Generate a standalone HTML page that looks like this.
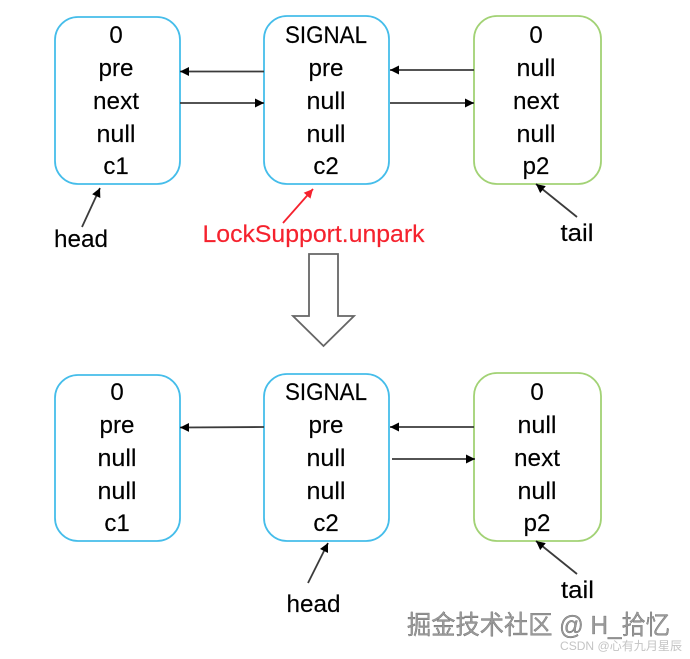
<!DOCTYPE html>
<html>
<head>
<meta charset="utf-8">
<style>
html,body{margin:0;padding:0;background:#fff;width:690px;height:659px;overflow:hidden}
svg{display:block}
.b{fill:#fff;stroke-width:1.8}
.t text{font-family:"Liberation Sans",sans-serif;font-size:24px;fill:#000;stroke:#000;stroke-width:0.15;text-anchor:middle}
.l{stroke:#3a3a3a;stroke-width:1.8;fill:none}
</style>
</head>
<body>
<svg width="690" height="659" viewBox="0 0 690 659" xmlns="http://www.w3.org/2000/svg">
<defs>
<filter id="s" x="-5%" y="-5%" width="110%" height="110%"><feGaussianBlur stdDeviation="0.3"/></filter>
<marker id="a" markerUnits="userSpaceOnUse" markerWidth="10" markerHeight="10" refX="9" refY="5" orient="auto"><path d="M0,0.5 L9,5 L0,9.5 Z" fill="#000"/></marker>
<marker id="r" markerUnits="userSpaceOnUse" markerWidth="10" markerHeight="10" refX="9" refY="5" orient="auto"><path d="M0,0.5 L9,5 L0,9.5 Z" fill="#f5222d"/></marker>
</defs>
<g filter="url(#s)">
<rect class="b" x="55" y="17" width="125" height="167" rx="23" stroke="#45bdea"/>
<rect class="b" x="264" y="16" width="125" height="168" rx="23" stroke="#45bdea"/>
<rect class="b" x="474" y="16" width="127" height="168" rx="23" stroke="#a2d275"/>
<rect class="b" x="55" y="375" width="125" height="166" rx="23" stroke="#45bdea"/>
<rect class="b" x="264" y="374" width="125" height="167" rx="23" stroke="#45bdea"/>
<rect class="b" x="474" y="373" width="127" height="168" rx="23" stroke="#a2d275"/>

<g class="l">
<line x1="264" y1="71.500" x2="180" y2="71.500" marker-end="url(#a)"/>
<line x1="180" y1="103" x2="264" y2="103" marker-end="url(#a)"/>
<line x1="474" y1="70" x2="390" y2="70" marker-end="url(#a)"/>
<line x1="390" y1="103" x2="474" y2="103" marker-end="url(#a)"/>
<line x1="82" y1="227" x2="100" y2="188" marker-end="url(#a)"/>
<line x1="577" y1="217" x2="536" y2="184" marker-end="url(#a)"/>
<line x1="264" y1="427" x2="180" y2="427.500" marker-end="url(#a)"/>
<line x1="474" y1="427" x2="390" y2="427" marker-end="url(#a)"/>
<line x1="392" y1="459" x2="475" y2="459" marker-end="url(#a)"/>
<line x1="308" y1="583" x2="328" y2="543" marker-end="url(#a)"/>
<line x1="577" y1="574" x2="536" y2="541" marker-end="url(#a)"/>
</g>
<line x1="283" y1="223" x2="313" y2="189" stroke="#f5222d" stroke-width="1.8" marker-end="url(#r)"/>

<path d="M309,254 H338 V316 H354 L323.500,346 L293,316 H309 Z" fill="#fff" stroke="#666" stroke-width="1.8"/>

<g class="t">
<text x="116" y="43">0</text>
<text x="116" y="76" textLength="35" lengthAdjust="spacingAndGlyphs">pre</text>
<text x="116" y="109" textLength="46" lengthAdjust="spacingAndGlyphs">next</text>
<text x="116" y="142" textLength="39" lengthAdjust="spacingAndGlyphs">null</text>
<text x="116" y="174">c1</text>

<text x="326" y="43" textLength="82" lengthAdjust="spacingAndGlyphs">SIGNAL</text>
<text x="326" y="76" textLength="35" lengthAdjust="spacingAndGlyphs">pre</text>
<text x="326" y="109" textLength="39" lengthAdjust="spacingAndGlyphs">null</text>
<text x="326" y="142" textLength="39" lengthAdjust="spacingAndGlyphs">null</text>
<text x="326" y="174">c2</text>

<text x="536" y="43">0</text>
<text x="536" y="76" textLength="39" lengthAdjust="spacingAndGlyphs">null</text>
<text x="536" y="109" textLength="46" lengthAdjust="spacingAndGlyphs">next</text>
<text x="536" y="142" textLength="39" lengthAdjust="spacingAndGlyphs">null</text>
<text x="536" y="174">p2</text>

<text x="117" y="400">0</text>
<text x="117" y="433" textLength="35" lengthAdjust="spacingAndGlyphs">pre</text>
<text x="117" y="466" textLength="39" lengthAdjust="spacingAndGlyphs">null</text>
<text x="117" y="499" textLength="39" lengthAdjust="spacingAndGlyphs">null</text>
<text x="117" y="531">c1</text>

<text x="326" y="400" textLength="82" lengthAdjust="spacingAndGlyphs">SIGNAL</text>
<text x="326" y="433" textLength="35" lengthAdjust="spacingAndGlyphs">pre</text>
<text x="326" y="466" textLength="39" lengthAdjust="spacingAndGlyphs">null</text>
<text x="326" y="499" textLength="39" lengthAdjust="spacingAndGlyphs">null</text>
<text x="326" y="531">c2</text>

<text x="537" y="400">0</text>
<text x="537" y="433" textLength="39" lengthAdjust="spacingAndGlyphs">null</text>
<text x="537" y="466" textLength="46" lengthAdjust="spacingAndGlyphs">next</text>
<text x="537" y="499" textLength="39" lengthAdjust="spacingAndGlyphs">null</text>
<text x="537" y="531">p2</text>

<text x="81" y="247" textLength="54" lengthAdjust="spacingAndGlyphs">head</text>
<text x="577" y="241" textLength="33" lengthAdjust="spacingAndGlyphs">tail</text>
<text x="313.500" y="612" textLength="54" lengthAdjust="spacingAndGlyphs">head</text>
<text x="577.500" y="598" textLength="33" lengthAdjust="spacingAndGlyphs">tail</text>
<text x="313.500" y="242" textLength="222" lengthAdjust="spacingAndGlyphs" style="fill:#f5222d;stroke:#f5222d">LockSupport.unpark</text>
</g>
</g>

<text x="407" y="634" textLength="263" lengthAdjust="spacingAndGlyphs" font-family="'Liberation Sans','Noto Sans CJK SC',sans-serif" font-size="26" fill="#9a9a9a" stroke="#555" stroke-width="0.3">掘金技术社区 @ H_拾忆</text>
<text x="560" y="650" textLength="122" lengthAdjust="spacingAndGlyphs" font-family="'Liberation Sans','Noto Sans CJK SC',sans-serif" font-size="12" fill="#c4c4c4">CSDN @心有九月星辰</text>
</svg>
</body>
</html>
